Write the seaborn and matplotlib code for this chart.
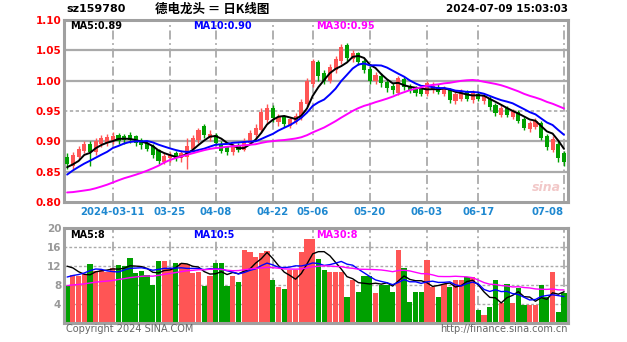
import numpy as np
import pandas as pd
import matplotlib
matplotlib.use("Agg")
import matplotlib.pyplot as plt
import seaborn as sns

# ---------------- data ----------------
symbol = "sz159780"
title = "德电龙头 ＝ 日K线图"
stamp = "2024-07-09 15:03:03"

date_ticks = ["2024-03-11", "03-25", "04-08", "04-22", "05-06", "05-20", "06-03", "06-17", "07-08"]
date_tick_idx = [8, 18, 26, 36, 43, 53, 63, 72, 87]

price_ticks = [0.80, 0.85, 0.90, 0.95, 1.00, 1.05, 1.10]
price_tick_labels = ["0.80", "0.85", "0.90", "0.95", "1.00", "1.05", "1.10"]
vol_ticks = [4, 8, 12, 16, 20]
vol_tick_labels = ["4", "8", "12", "16", "20"]

open_ = [0.875, 0.860, 0.875, 0.884, 0.896, 0.882, 0.895, 0.898, 0.900, 0.910,
         0.908, 0.910, 0.908, 0.902, 0.898, 0.892, 0.886, 0.866, 0.872, 0.880,
         0.872, 0.874, 0.888, 0.902, 0.925, 0.905, 0.910, 0.896, 0.890, 0.882,
         0.894, 0.886, 0.898, 0.910, 0.918, 0.935, 0.955, 0.932, 0.940, 0.926,
         0.932, 0.938, 0.962, 0.995, 1.030, 1.012, 1.000, 1.018, 1.032, 1.058,
         1.035, 1.045, 1.032, 1.020, 1.000, 1.008, 0.998, 0.992, 0.980, 1.002,
         0.992, 0.988, 0.986, 0.978, 0.985, 0.990, 0.978, 0.985, 0.966, 0.970,
         0.982, 0.968, 0.978, 0.966, 0.970, 0.960, 0.944, 0.955, 0.940, 0.948,
         0.936, 0.920, 0.924, 0.930, 0.908, 0.886, 0.896, 0.880]
close = [0.862, 0.878, 0.888, 0.895, 0.882, 0.900, 0.905, 0.907, 0.908, 0.900,
         0.902, 0.903, 0.898, 0.894, 0.888, 0.878, 0.867, 0.876, 0.878, 0.873,
         0.880, 0.893, 0.906, 0.918, 0.910, 0.912, 0.898, 0.884, 0.883, 0.892,
         0.886, 0.900, 0.914, 0.922, 0.948, 0.955, 0.938, 0.940, 0.928, 0.936,
         0.942, 0.965, 1.000, 1.032, 1.008, 1.000, 1.022, 1.035, 1.055, 1.038,
         1.046, 1.030, 1.018, 1.000, 1.010, 0.996, 0.988, 0.984, 1.004, 0.990,
         0.984, 0.980, 0.978, 0.996, 0.992, 0.982, 0.988, 0.968, 0.978, 0.982,
         0.970, 0.980, 0.970, 0.974, 0.956, 0.946, 0.955, 0.944, 0.950, 0.934,
         0.922, 0.930, 0.934, 0.906, 0.890, 0.904, 0.872, 0.866]
high = [0.880, 0.882, 0.892, 0.900, 0.900, 0.905, 0.910, 0.912, 0.915, 0.914,
        0.912, 0.915, 0.910, 0.906, 0.901, 0.895, 0.888, 0.880, 0.882, 0.884,
        0.885, 0.905, 0.910, 0.922, 0.928, 0.918, 0.914, 0.900, 0.893, 0.896,
        0.898, 0.905, 0.918, 0.928, 0.955, 0.962, 0.960, 0.945, 0.944, 0.940,
        0.946, 0.970, 1.005, 1.036, 1.034, 1.018, 1.028, 1.040, 1.060, 1.062,
        1.050, 1.048, 1.036, 1.024, 1.015, 1.012, 1.002, 0.996, 1.008, 1.006,
        0.995, 0.992, 0.990, 1.000, 0.998, 0.994, 0.992, 0.988, 0.982, 0.986,
        0.985, 0.984, 0.982, 0.978, 0.974, 0.963, 0.960, 0.958, 0.954, 0.952,
        0.940, 0.934, 0.938, 0.933, 0.912, 0.908, 0.900, 0.884]
low = [0.855, 0.855, 0.870, 0.880, 0.860, 0.878, 0.890, 0.893, 0.895, 0.895,
       0.896, 0.898, 0.893, 0.888, 0.884, 0.872, 0.862, 0.862, 0.866, 0.868,
       0.866, 0.855, 0.884, 0.898, 0.905, 0.900, 0.894, 0.880, 0.878, 0.878,
       0.882, 0.884, 0.895, 0.906, 0.915, 0.930, 0.932, 0.926, 0.924, 0.922,
       0.928, 0.935, 0.958, 0.990, 1.000, 0.995, 0.996, 1.012, 1.028, 1.032,
       1.030, 1.026, 1.012, 0.995, 0.995, 0.990, 0.982, 0.978, 0.976, 0.985,
       0.980, 0.975, 0.974, 0.975, 0.980, 0.978, 0.975, 0.964, 0.962, 0.966,
       0.966, 0.964, 0.966, 0.962, 0.952, 0.942, 0.940, 0.940, 0.936, 0.930,
       0.918, 0.916, 0.920, 0.902, 0.886, 0.882, 0.866, 0.860]
volume = [7.8, 10.2, 10.0, 10.3, 12.4, 11.0, 11.2, 10.8, 11.5, 12.2,
          12.0, 13.7, 10.5, 11.0, 10.2, 8.0, 13.0, 13.0, 11.6, 12.6,
          12.6, 12.4, 10.5, 10.8, 7.8, 10.0, 12.7, 12.7, 7.8, 10.0,
          8.6, 15.4, 15.0, 14.0, 14.7, 15.2, 9.0, 7.6, 7.1, 11.2,
          11.2, 15.0, 17.7, 17.7, 13.5, 11.2, 10.7, 10.7, 10.7, 5.5,
          9.0, 6.6, 10.0, 10.0, 6.3, 8.0, 8.0, 6.6, 15.4, 11.5,
          4.4, 6.6, 6.6, 13.3, 7.6, 5.4, 8.2, 7.6, 9.1, 9.1,
          9.6, 9.6, 2.7, 1.7, 3.4, 9.1, 4.2, 8.2, 4.2, 7.3,
          3.8, 3.8, 3.8, 8.0, 5.5, 10.7, 2.3, 6.3]

# closes / volumes of the 29 sessions before the window (for the moving averages)
history_close = [0.86, 0.85, 0.855, 0.84, 0.83, 0.82, 0.815, 0.80, 0.79, 0.80,
                 0.82, 0.81, 0.80, 0.78, 0.76, 0.74, 0.72, 0.75, 0.78, 0.80,
                 0.81, 0.83, 0.84, 0.835, 0.85, 0.855, 0.86, 0.845, 0.865]
history_volume = [6, 7, 6.5, 7, 6, 7, 8, 7.5, 6, 7,
                  7, 6.5, 7, 8, 9, 8, 6, 6.5, 7, 6.5,
                  7, 8, 7, 7.5, 7.5, 12, 14, 13, 13]

price_ma_labels = ["MA5:0.89", "MA10:0.90", "MA30:0.95"]
vol_ma_labels = ["MA5:8", "MA10:5", "MA30:8"]

# ---------------- derived ----------------
n = len(close)
idx = np.arange(n)
nh = len(history_close)
cs = pd.Series(history_close + close)
vs = pd.Series(history_volume + volume)
ma_windows = [5, 10, 30]
ma_colors = ["#000000", "#0000ff", "#ff00ff"]
price_ma = {w: cs.rolling(w).mean().iloc[nh:].to_numpy() for w in ma_windows}
vol_ma = {w: vs.rolling(w).mean().iloc[nh:].to_numpy() for w in ma_windows}

RED = "#ff5555"
GREEN = "#00a000"
up = np.array(close) >= np.array(open_)
colors = np.where(up, RED, GREEN)

# ---------------- figure ----------------
sns.set_theme(style="white")
plt.rcParams["font.family"] = ["DejaVu Sans", "Noto Sans CJK SC"]

W, H = 627, 342
fig = plt.figure(figsize=(W / 100, H / 100), dpi=100)
fig.patch.set_facecolor("white")

def rect(l, t, r, b):
    return [l / W, 1 - b / H, (r - l) / W, (b - t) / H]

axp = fig.add_axes(rect(64, 20, 568, 202))
axv = fig.add_axes(rect(64, 228, 568, 323))

xlim = (-0.55, 87.7)
GRID = "#aaaaaa"

for ax in (axp, axv):
    ax.set_facecolor("white")
    ax.set_xlim(*xlim)
    for s in ax.spines.values():
        s.set_color("#a0a0a0")
        s.set_linewidth(2.2)
    ax.tick_params(length=0)
    ax.set_xticks([])
    for xi in date_tick_idx:
        ax.axvline(xi, color=GRID, lw=1.3, ls=(0, (5, 2, 1, 2)), zorder=0)

# price panel
axp.set_ylim(0.80, 1.10)
for yv in [0.85, 0.90, 1.00, 1.05]:
    axp.axhline(yv, color=GRID, lw=1.6, zorder=0)
axp.axhline(0.95, color=GRID, lw=1.2, ls=(0, (2, 1.5)), zorder=0)
axp.set_yticks(price_ticks)
axp.set_yticklabels(price_tick_labels, color="#ff0000", fontsize=7.5, fontweight="bold")
axp.tick_params(axis="y", pad=2)

body_bottom = np.minimum(open_, close)
body_h = np.maximum(np.abs(np.array(close) - np.array(open_)), 0.002)
axp.vlines(idx, low, high, colors=colors, lw=1.0, zorder=2)
axp.bar(idx, body_h, bottom=body_bottom, width=0.72, color=colors, linewidth=0, zorder=3)

pdf = pd.DataFrame({"i": np.tile(idx, 3),
                    "v": np.concatenate([price_ma[w] for w in ma_windows]),
                    "ma": np.repeat([f"MA{w}" for w in ma_windows], n)})
sns.lineplot(data=pdf, x="i", y="v", hue="ma", palette=dict(zip([f"MA{w}" for w in ma_windows], ma_colors)),
             lw=1.4, legend=False, ax=axp, zorder=4)
axp.set_xlabel("")
axp.set_ylabel("")
axp.set_xlim(*xlim)
axp.set_ylim(0.80, 1.10)

for lab, col, xp in zip(price_ma_labels, ma_colors, [70, 193, 316]):
    fig.text(xp / W, 1 - 26 / H, lab, color=col, fontsize=7, fontweight="bold", va="center", ha="left")

# date labels
for xi, lab in zip(date_tick_idx, date_ticks):
    ha = "right" if xi == date_tick_idx[-1] else "center"
    axp.text(xi, -0.055, lab, transform=axp.get_xaxis_transform(), ha=ha, va="center",
             color="#1e88d0", fontsize=7.3, fontweight="bold")

# sina watermark
axp.text(0.985, 0.08, "sina", transform=axp.transAxes, ha="right", va="center",
         color="#f2c8c8", fontsize=9, fontweight="bold", style="italic")

# volume panel
axv.set_ylim(0, 20)
for yv in [4, 8, 12, 16]:
    axv.axhline(yv, color=GRID, lw=1.0, ls=(0, (2, 1.5)), zorder=0)
axv.set_yticks(vol_ticks)
axv.set_yticklabels(vol_tick_labels, color="#999999", fontsize=7.5, fontweight="bold")
axv.tick_params(axis="y", pad=2)
axv.bar(idx, volume, width=0.92, color=colors, linewidth=0, zorder=2)

vdf = pd.DataFrame({"i": np.tile(idx, 3),
                    "v": np.concatenate([vol_ma[w] for w in ma_windows]),
                    "ma": np.repeat([f"MA{w}" for w in ma_windows], n)})
sns.lineplot(data=vdf, x="i", y="v", hue="ma", palette=dict(zip([f"MA{w}" for w in ma_windows], ma_colors)),
             lw=1.0, legend=False, ax=axv, zorder=4)
axv.set_xlabel("")
axv.set_ylabel("")
axv.set_xlim(*xlim)
axv.set_ylim(0, 20)

for lab, col, xp in zip(vol_ma_labels, ma_colors, [70, 193, 316]):
    fig.text(xp / W, 1 - 235 / H, lab, color=col, fontsize=7, fontweight="bold", va="center", ha="left")

# header
fig.text(66 / W, 1 - 9 / H, symbol, fontsize=8, fontweight="bold", color="black", va="center", ha="left")
fig.text(212 / W, 1 - 9 / H, title, fontsize=9, fontweight="bold", color="black", va="center", ha="center",
         family=["Noto Sans CJK SC", "DejaVu Sans"])
fig.text(568 / W, 1 - 9 / H, stamp, fontsize=7.5, fontweight="bold", color="black", va="center", ha="right")

# footer
fig.text(66 / W, 1 - 329 / H, "Copyright 2024 SINA.COM", fontsize=7, color="#666666", va="center", ha="left")
fig.text(568 / W, 1 - 329 / H, "http://finance.sina.com.cn", fontsize=7, color="#666666", va="center", ha="right")

fig.savefig("out.png", dpi=100, facecolor="white")
